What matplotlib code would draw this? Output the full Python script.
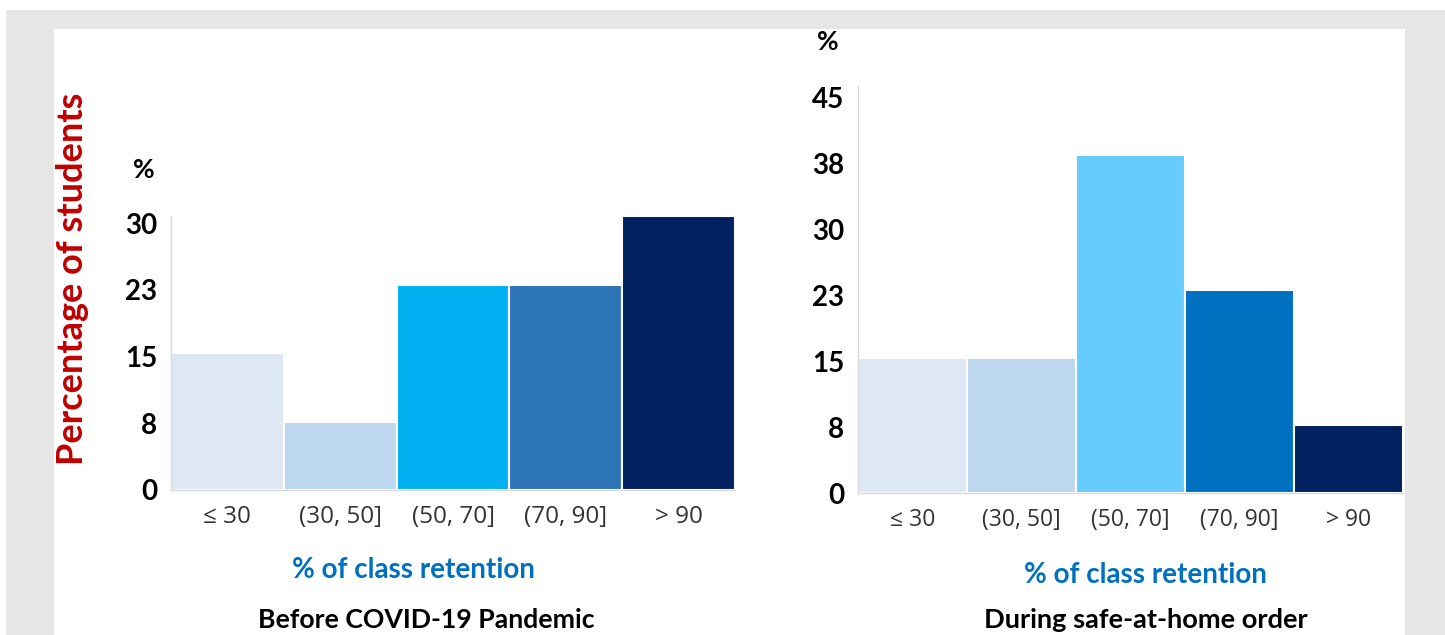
import matplotlib.pyplot as plt
from matplotlib.patches import Rectangle

plt.rcParams['font.family'] = ['Lato', 'DejaVu Sans']

# data (13 students, shares in %)
categories = ['≤ 30', '(30, 50]', '(50, 70]', '(70, 90]', '> 90']
before_vals = [15.4, 7.7, 23.1, 23.1, 30.8]
during_vals = [15.4, 15.4, 38.5, 23.1, 7.7]
before_colors = ['#dde8f4', '#bdd7ee', '#00b0f0', '#2e75b6', '#002060']
during_colors = ['#dde8f4', '#bdd7ee', '#66ccff', '#0070c0', '#002060']
before_ticks = [0, 7.5, 15, 22.5, 30]
before_ticklabels = ['0', '8', '15', '23', '30']
during_ticks = [0, 7.5, 15, 22.5, 30, 37.5, 45]
during_ticklabels = ['0', '8', '15', '23', '30', '38', '45']

W, H = 1445, 635


def fx(px):
    return px / W


def fy(py):
    return 1 - py / H


fig = plt.figure(figsize=(14.45, 6.35), dpi=100, facecolor='white')
# grey frame + white panel
fig.patches.append(Rectangle((fx(6), 0), fx(1445) - fx(6), fy(10), transform=fig.transFigure,
                             facecolor='#e6e6e6', edgecolor='none', zorder=-2))
fig.patches.append(Rectangle((fx(54), 0), fx(1405) - fx(54), fy(29), transform=fig.transFigure,
                             facecolor='white', edgecolor='none', zorder=-1))


def draw(ax, vals, colors, ticks, ticklabels, ymax, xfs):
    ax.bar(range(len(vals)), vals, width=1.0, color=colors, edgecolor='white', linewidth=1.5)
    ax.set_xlim(-0.5, len(vals) - 0.5)
    ax.set_ylim(0, ymax)
    ax.set_yticks(ticks)
    ax.set_yticklabels(ticklabels, fontsize=20, fontweight='bold')
    ax.set_xticks(range(len(vals)))
    ax.set_xticklabels(categories, fontsize=xfs, color='#333333',
                       family=['Open Sans', 'DejaVu Sans'])
    ax.tick_params(axis='y', length=0, pad=10)
    ax.tick_params(axis='x', length=0, pad=11)
    for s in ['top', 'right']:
        ax.spines[s].set_visible(False)
    for s in ['left', 'bottom']:
        ax.spines[s].set_color('#d9d9d9')
        ax.spines[s].set_linewidth(1)
    ax.set_facecolor('none')


ax1 = fig.add_axes([fx(171), fy(490), fx(735) - fx(171), fy(216) - fy(490)])
draw(ax1, before_vals, before_colors, before_ticks, before_ticklabels, 30.8, 17.5)

ax2 = fig.add_axes([fx(858), fy(493), fx(1403) - fx(858), fy(86) - fy(493)])
draw(ax2, during_vals, during_colors, during_ticks, during_ticklabels, 46.3, 16.5)

# text annotations
fig.text(fx(144), fy(170), '%', fontsize=19, fontweight='bold', ha='center', va='center')
fig.text(fx(828), fy(42), '%', fontsize=19, fontweight='bold', ha='center', va='center')
fig.text(fx(73), fy(279), 'Percentage of students', fontsize=26, fontweight='bold',
         color='#c00000', rotation=90, ha='center', va='center')
fig.text(fx(413), fy(570), '% of class retention', fontsize=20, fontweight='bold',
         color='#0070c0', ha='center', va='center')
fig.text(fx(1145), fy(575), '% of class retention', fontsize=20, fontweight='bold',
         color='#0070c0', ha='center', va='center')
fig.text(fx(426), fy(620), 'Before COVID-19 Pandemic', fontsize=19.2, fontweight='bold',
         ha='center', va='center')
fig.text(fx(1146), fy(620), 'During safe-at-home order', fontsize=19.6, fontweight='bold',
         ha='center', va='center')

plt.savefig('out.png', dpi=100, facecolor=fig.get_facecolor())
